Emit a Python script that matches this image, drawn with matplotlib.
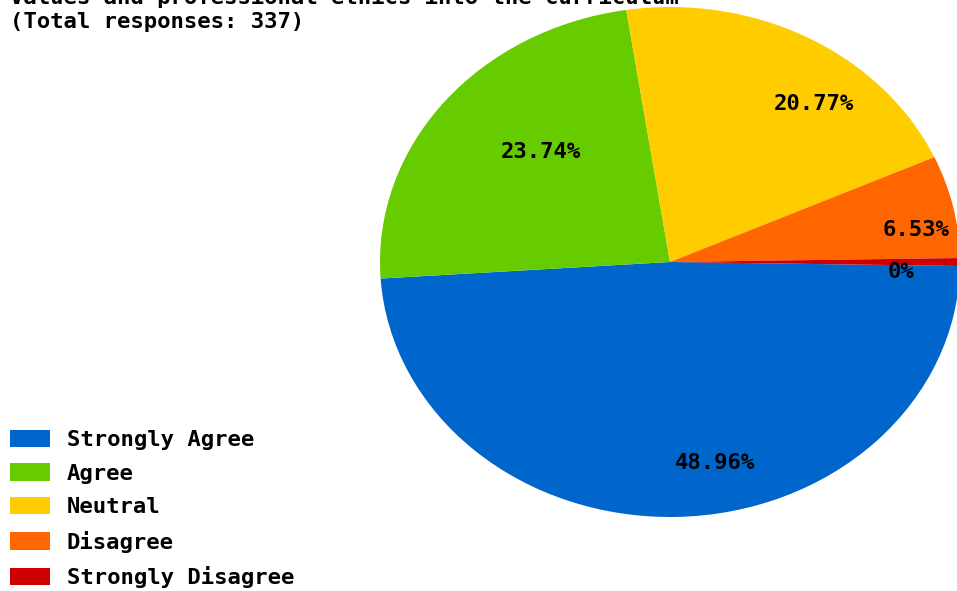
import matplotlib
matplotlib.use("Agg")
import matplotlib.pyplot as plt
import numpy as np

categories = ["Strongly Agree", "Agree", "Neutral", "Disagree", "Strongly Disagree"]
percentages = [48.96, 23.74, 20.77, 6.53, 0.0]
pct_labels = ["48.96%", "23.74%", "20.77%", "6.53%", "0%"]
colors = ["#0066CC", "#66CC00", "#FFCC00", "#FF6600", "#CC0000"]
title_lines = ["Values and professional ethics into the curriculum",
               "(Total responses: 337)"]

# zero slices are drawn as a hairline wedge, as in the reference
MIN_DRAW = 0.5
draw_sizes = [max(p, MIN_DRAW) for p in percentages]

W, H = 957, 591
fig = plt.figure(figsize=(W / 100, H / 100), dpi=100)
fig.patch.set_facecolor("white")

FONT = "DejaVu Sans Mono"
FS = 16
FPX = FS * 100 / 72

# pie axes: pixel box x 380..960, y 7..517 (from top)
ax = fig.add_axes([380 / W, (H - 517) / H, 580 / W, 510 / H])
wedges, _ = ax.pie(draw_sizes, colors=colors, startangle=-0.9, counterclock=False,
                   radius=1.0, wedgeprops=dict(linewidth=0, antialiased=True))
ax.set_aspect("auto")
ax.set_xlim(-1, 1)
ax.set_ylim(-1, 1)
ax.axis("off")

for w, lab in zip(wedges, pct_labels):
    mid = np.deg2rad((w.theta1 + w.theta2) / 2)
    r = 0.75
    ax.text(r * np.cos(mid), r * np.sin(mid), lab, ha="left", va="top",
            family=FONT, fontweight="bold", fontsize=FS, color="black")

# title (first line partially cut off at top as in reference)
fig.text(10 / W, 1 - (-3) / H, title_lines[0], ha="left", va="center",
         family=FONT, fontweight="bold", fontsize=FS)
fig.text(10 / W, 1 - 22 / H, title_lines[1], ha="left", va="center",
         family=FONT, fontweight="bold", fontsize=FS)

leg = fig.legend(wedges, categories, loc="lower left",
                 bbox_to_anchor=(10 / W, 3 / H), frameon=False,
                 prop=dict(family=FONT, weight="bold", size=FS),
                 handlelength=40 / FPX, handleheight=18 / FPX,
                 handletextpad=17 / FPX, labelspacing=0.6,
                 borderpad=0, borderaxespad=0)

fig.savefig("out.png", dpi=100, facecolor="white")
